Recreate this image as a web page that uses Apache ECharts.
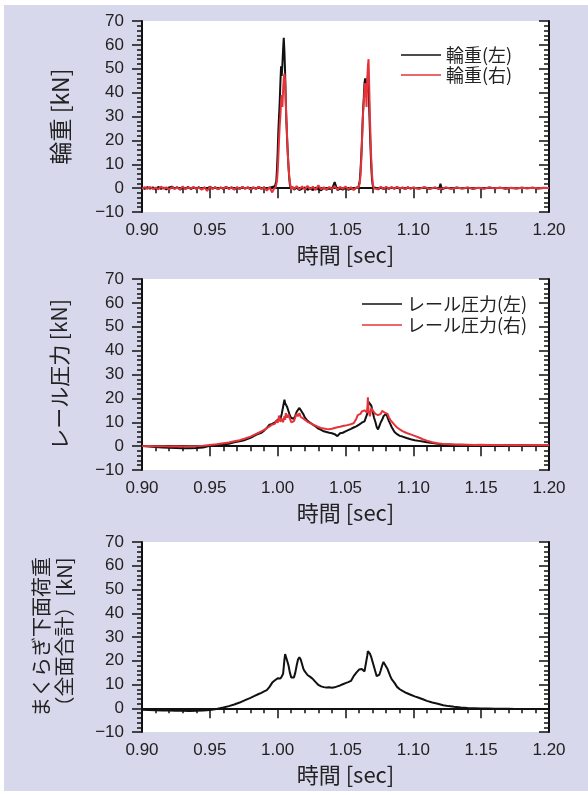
<!DOCTYPE html>
<html>
<head>
<meta charset="utf-8">
<script src="https://cdn.jsdelivr.net/npm/echarts@6/dist/echarts.min.js"></script>
<style>
body{margin:0;background:#fff;}
#bg{position:absolute;left:4px;top:5px;width:584px;height:786px;background:#d8d8ec;}
#main{position:absolute;left:0;top:0;width:588px;height:795px;}
</style>
</head>
<body>
<div id="bg"></div>
<div id="main"></div>
<script>
// 輪重 (wheel load) time axis [sec]
var time1 = [
    0.900,0.902,0.904,0.906,0.908,0.910,0.912,0.914,0.916,0.918,
    0.920,0.922,0.924,0.926,0.928,0.930,0.932,0.934,0.936,0.938,
    0.940,0.942,0.944,0.946,0.948,0.950,0.952,0.954,0.956,0.958,
    0.960,0.962,0.964,0.966,0.968,0.970,0.972,0.974,0.976,0.978,
    0.980,0.982,0.984,0.986,0.988,0.990,0.992,0.994,0.996,0.997,
    0.998,0.9985,0.999,0.9995,1.000,1.0005,1.001,1.0015,1.002,1.0025,
    1.003,1.0035,1.004,1.0045,1.005,1.0055,1.006,1.0065,1.007,1.0075,
    1.008,1.0085,1.009,1.0095,1.010,1.011,1.012,1.014,1.016,1.018,
    1.020,1.022,1.024,1.026,1.028,1.030,1.032,1.034,1.036,1.038,
    1.040,1.042,1.044,1.046,1.048,1.050,1.052,1.054,1.056,1.058,
    1.059,1.0595,1.060,1.0605,1.061,1.0615,1.062,1.0625,1.063,1.0635,
    1.064,1.0645,1.065,1.0655,1.066,1.0665,1.067,1.0675,1.068,1.0685,
    1.069,1.0695,1.070,1.0705,1.071,1.072,1.074,1.076,1.078,1.080,
    1.082,1.084,1.086,1.088,1.090,1.092,1.094,1.096,1.098,1.100,
    1.104,1.108,1.112,1.116,1.119,1.120,1.121,1.124,1.128,1.132,
    1.136,1.140,1.144,1.148,1.152,1.156,1.160,1.164,1.168,1.172,
    1.176,1.180,1.184,1.188,1.192,1.196,1.200
];
var wheelL = [
    0.2,-0.3,0.4,-0.2,0.3,-0.4,0.5,-0.3,0.2,-0.5,
    0.3,0.6,-0.2,0.4,-0.6,0.2,-0.3,0.5,-0.4,0.3,
    -0.2,0.4,-0.5,0.2,-0.3,0.6,-0.2,0.3,-0.4,0.2,
    -0.3,0.5,-0.2,0.3,-0.5,0.2,-0.3,0.4,-0.2,0.3,
    -0.6,0.2,-0.3,0.5,-0.2,0.3,-0.4,0.2,0.5,0.3,
    0.8,1.5,3,8,15,24,30,36,44,51,
    47,52,58,63,57,48,36,27,20,14,
    9,4.5,1.5,0.3,-0.4,0.3,-0.6,0.2,-0.8,-0.2,
    0.3,-0.7,-0.2,-0.8,0.2,-0.5,-0.9,0.1,-0.6,-0.2,
    -0.5,2.5,-0.8,-0.2,-0.6,0.1,-0.7,-0.2,-0.5,0.2,
    -0.3,0.4,1.2,3,7,12,18,26,33,38,
    44,46,42,40,44,47,43,33,24,16,
    9,4,1.5,0.2,-0.6,0.2,-0.5,0.3,-0.4,0.2,
    -0.3,0.3,-0.2,0.4,-0.3,0.2,-0.4,0.3,-0.2,0.2,
    -0.2,0.3,-0.3,0.2,-0.4,1.8,-0.5,0.2,-0.2,0.3,
    -0.2,0.2,-0.3,0.1,-0.2,0.3,-0.1,0.2,-0.3,0.1,
    -0.2,0.2,-0.1,0.2,-0.2,0.1,0.0
];
var wheelR = [
    -0.2,0.4,-0.3,0.5,-0.4,0.2,-0.5,0.6,-0.2,0.3,
    -0.6,0.4,-0.3,0.2,-0.5,0.7,-0.4,0.3,-0.2,0.5,
    -0.3,0.2,-0.6,0.4,-1.2,0.5,-0.3,0.4,-0.5,0.3,
    -0.2,0.5,-0.4,0.3,-0.6,0.4,-0.3,0.5,-0.2,0.3,
    -0.5,0.4,-0.3,0.6,-0.4,0.3,-1.0,0.4,-1.8,-0.5,
    -0.3,0.2,1.0,3,7,13,20,26,30,36,
    39,34,41,46,48,45,36,28,21,14,
    9,5,2.5,0.8,-0.5,0.6,-0.4,0.8,-0.5,0.7,
    -0.6,0.9,-0.4,0.6,-0.8,1.2,-0.5,0.4,-0.7,0.5,
    -0.4,0.8,-0.6,0.5,-0.3,0.7,-0.5,0.4,-0.8,0.3,
    -0.2,0.2,0.8,2,5,10,17,25,32,36,
    41,44,42,34,45,51,54,42,30,20,
    12,6,2.5,0.8,-0.2,0.5,-0.4,0.6,-0.3,0.5,
    -0.2,0.4,-0.3,0.5,-0.2,0.3,-0.4,0.4,-0.2,0.3,
    -0.3,0.4,-0.2,0.3,-0.3,0.2,-0.2,0.3,-0.3,0.2,
    -0.1,0.3,-0.2,0.2,-0.2,0.3,-0.1,0.2,-0.2,0.2,
    -0.1,0.2,-0.1,0.2,-0.1,0.2,0.1
];

// レール圧力 / まくらぎ下面荷重 time axis [sec]
var time2 = [
    0.900,0.905,0.910,0.915,0.920,0.925,0.930,0.935,0.940,0.945,
    0.950,0.955,0.960,0.964,0.968,0.972,0.976,0.980,0.983,0.986,
    0.988,0.990,0.992,0.994,0.996,0.998,0.999,1.000,1.001,1.002,
    1.003,1.004,1.005,1.0055,1.006,1.007,1.008,1.009,1.010,1.011,
    1.012,1.013,1.014,1.015,1.016,1.017,1.018,1.019,1.020,1.022,
    1.024,1.026,1.028,1.030,1.032,1.034,1.036,1.038,1.040,1.042,
    1.044,1.046,1.048,1.050,1.052,1.054,1.056,1.058,1.059,1.060,
    1.061,1.062,1.063,1.064,1.065,1.066,1.0665,1.067,1.068,1.069,
    1.070,1.071,1.072,1.073,1.074,1.075,1.076,1.077,1.078,1.079,
    1.080,1.081,1.082,1.083,1.084,1.086,1.088,1.090,1.092,1.095,
    1.098,1.101,1.104,1.107,1.110,1.114,1.118,1.122,1.126,1.130,
    1.135,1.140,1.145,1.150,1.155,1.160,1.165,1.170,1.175,1.180,
    1.185,1.190,1.195,1.200
];
var railL = [
    0.0,-0.2,-0.4,-0.6,-0.7,-0.8,-0.9,-0.9,-0.8,-0.6,
    0.1,0.4,0.7,1.0,1.6,2.0,2.6,3.5,4.4,5.2,
    5.6,6.5,7.6,9.0,9.3,10.0,10.6,11.0,10.6,11.4,
    13.5,16.5,19.5,18.0,17.3,16.4,14.6,12.8,11.8,11.2,
    11.5,12.8,14.4,15.2,16.0,15.1,14.2,13.3,12.0,10.6,
    9.8,9.0,8.2,7.3,6.8,6.2,5.9,5.6,5.4,5.0,
    4.2,5.4,5.6,6.2,6.7,7.2,7.8,8.3,8.6,9.0,
    9.4,9.8,10.0,10.4,10.8,13.5,16.5,18.5,18.0,17.0,
    14.5,12.0,10.2,8.0,7.0,8.5,10.0,11.0,12.5,13.3,
    13.6,12.0,10.5,9.3,8.0,6.0,5.0,4.3,4.0,3.4,
    2.9,2.5,2.2,1.9,1.6,1.3,1.0,0.8,0.7,0.6,
    0.6,0.5,0.5,0.5,0.4,0.5,0.4,0.4,0.5,0.4,
    0.4,0.4,0.3,0.4
];
var railR = [
    0.0,0.1,-0.1,0.0,-0.2,-0.1,-0.2,-0.1,0.0,0.2,
    0.5,0.8,1.2,1.5,2.0,2.5,3.2,4.0,4.8,5.6,
    6.2,6.8,7.5,8.3,9.0,9.4,10.8,9.8,12.8,10.2,
    11.5,10.0,12.5,11.0,13.8,12.0,13.2,11.5,10.0,9.2,
    10.5,12.0,13.5,12.5,13.8,12.2,12.8,11.5,11.0,10.2,
    9.6,9.0,8.6,8.0,7.6,7.4,7.2,7.1,7.3,7.6,
    7.9,8.1,8.4,8.6,8.9,9.2,9.6,11.5,13.0,13.8,
    13.5,14.5,14.0,15.0,15.5,14.0,20.5,15.0,12.5,16.0,
    15.0,14.2,13.5,14.0,13.0,12.2,13.5,14.8,15.0,14.0,
    14.8,13.5,12.0,11.0,10.2,9.0,7.8,7.0,6.3,5.5,
    4.9,4.3,3.6,2.9,2.3,1.6,1.2,0.9,0.8,0.7,
    0.6,0.6,0.5,0.6,0.5,0.5,0.5,0.4,0.5,0.4,
    0.4,0.5,0.4,0.4
];
var sleeper = [
    -0.6,-0.7,-0.8,-0.9,-1.0,-1.1,-1.1,-1.2,-1.1,-1.0,
    -0.7,-0.3,0.3,0.9,1.6,2.4,3.4,4.4,5.2,6.0,
    6.5,7.1,7.6,9.0,10.8,11.8,12.3,12.6,12.8,12.5,
    13.4,14.5,20.5,22.8,22.0,20.0,18.0,15.0,13.0,12.5,
    13.0,15.0,18.0,20.5,21.5,20.5,18.5,16.5,15.5,14.0,
    13.2,12.3,11.0,9.8,9.2,8.9,8.7,8.8,8.6,8.8,
    9.2,9.6,10.1,10.6,11.0,11.5,13.5,15.0,15.8,16.3,
    16.0,16.5,16.2,15.5,16.0,22.0,24.0,23.2,23.0,21.5,
    19.5,17.5,15.5,13.5,12.8,14.2,16.0,18.0,19.5,19.0,
    17.5,16.5,15.0,13.5,12.3,10.8,9.0,8.0,7.3,6.4,
    5.7,5.0,4.4,3.8,3.1,2.4,1.9,1.3,0.9,0.6,
    0.3,0.1,0.0,-0.1,-0.1,-0.2,-0.2,-0.2,-0.3,-0.3,
    -0.3,-0.3,-0.3,-0.3
];

var xTicks = [0.90, 0.95, 1.00, 1.05, 1.10, 1.15, 1.20];
var yTicks = [-10, 0, 10, 20, 30, 40, 50, 60, 70];

var numFont = '"Liberation Sans", Arial, sans-serif';
var jpFont = '"Noto Sans CJK JP", "Noto Sans", sans-serif';
var tops = [21, 279, 542];
var heights = [191, 191, 190];
var yNames = ['輪重 [kN]', 'レール圧力 [kN]', 'まくらぎ下面荷重\n（全面合計）[kN]'];
var yGaps = [70, 71, 66];
var ySizes = [23, 21, 20];

function pair(t, v) {
    var out = [];
    for (var i = 0; i < t.length; i++) out.push([t[i], v[i]]);
    return out;
}

var grids = [], xAxes = [], yAxes = [];
for (var g = 0; g < 3; g++) {
    grids.push({left: 142, top: tops[g], width: 407, height: heights[g], show: true, backgroundColor: '#fff', borderWidth: 0});
    var line = {show: true, lineStyle: {color: '#111', width: 2}};
    // bottom x
    xAxes.push({
        gridIndex: g, type: 'value', position: 'bottom',
        min: xTicks[0], max: xTicks[xTicks.length - 1], interval: 0.05,
        axisLine: line, splitLine: {show: false},
        axisTick: {length: 10, lineStyle: {color: '#111', width: 1.5}},
        minorTick: {show: true, splitNumber: 5, length: 5, lineStyle: {color: '#111', width: 1.5}},
        axisLabel: {fontSize: 17, color: '#222', fontFamily: numFont, margin: 10,
            formatter: function (v) { return v.toFixed(2); }},
        name: '時間 [sec]', nameLocation: 'middle', nameGap: 32,
        nameTextStyle: {fontSize: 22, color: '#222', fontFamily: jpFont}
    });
    // top x (inside ticks)
    xAxes.push({
        gridIndex: g, type: 'value', position: 'top',
        min: xTicks[0], max: xTicks[xTicks.length - 1], interval: 0.05,
        axisLine: line, splitLine: {show: false},
        axisTick: {inside: true, length: 10, lineStyle: {color: '#111', width: 1.5}},
        minorTick: {show: true, splitNumber: 5, length: 5, lineStyle: {color: '#111', width: 1.5}},
        axisLabel: {show: false}
    });
    yAxes.push({
        gridIndex: g, type: 'value', position: 'left',
        min: yTicks[0], max: yTicks[yTicks.length - 1], interval: 10,
        axisLine: line, splitLine: {show: false},
        axisTick: {length: 10, lineStyle: {color: '#111', width: 1.5}},
        minorTick: {show: true, splitNumber: 5, length: 5, lineStyle: {color: '#111', width: 1.5}},
        axisLabel: {fontSize: 17, color: '#222', fontFamily: numFont, margin: 18,
            formatter: function (v) { return v < 0 ? '\u2212' + Math.abs(v) : String(v); }},
        name: yNames[g], nameLocation: 'middle', nameGap: yGaps[g], nameRotate: 90,
        nameTextStyle: {fontSize: ySizes[g], color: '#222', fontFamily: jpFont, lineHeight: 23}
    });
    yAxes.push({
        gridIndex: g, type: 'value', position: 'right',
        min: yTicks[0], max: yTicks[yTicks.length - 1], interval: 10,
        axisLine: line, splitLine: {show: false},
        axisTick: {inside: true, length: 10, lineStyle: {color: '#111', width: 1.5}},
        minorTick: {show: true, splitNumber: 5, length: 5, lineStyle: {color: '#111', width: 1.5}},
        axisLabel: {show: false}
    });
}

function mkSeries(name, g, t, v, color, w) {
    return {
        name: name, type: 'line', xAxisIndex: g * 2, yAxisIndex: g * 2,
        data: pair(t, v), symbol: 'none', animation: false,
        lineStyle: {color: color, width: w}, itemStyle: {color: color}
    };
}

var black = '#111', red = '#e6333a';
var legendText = {fontSize: 18, color: '#222', fontFamily: jpFont};

var chart = echarts.init(document.getElementById('main'));
chart.setOption({
    animation: false,
    grid: grids,
    xAxis: xAxes,
    yAxis: yAxes,
    legend: [
        {data: ['輪重(左)', '輪重(右)'], orient: 'vertical', left: 401, top: 46, padding: 0,
            icon: 'rect', itemWidth: 40, itemHeight: 1.5, itemGap: 2, textStyle: legendText},
        {data: ['レール圧力(左)', 'レール圧力(右)'], orient: 'vertical', left: 362, top: 295, padding: 0,
            icon: 'rect', itemWidth: 40, itemHeight: 1.5, itemGap: 3, textStyle: legendText}
    ],
    series: [
        mkSeries('輪重(左)', 0, time1, wheelL, black, 2),
        mkSeries('輪重(右)', 0, time1, wheelR, red, 2),
        mkSeries('レール圧力(左)', 1, time2, railL, black, 2),
        mkSeries('レール圧力(右)', 1, time2, railR, red, 2),
        mkSeries('まくらぎ下面荷重', 2, time2, sleeper, black, 2)
    ]
});
</script>
</body>
</html>
